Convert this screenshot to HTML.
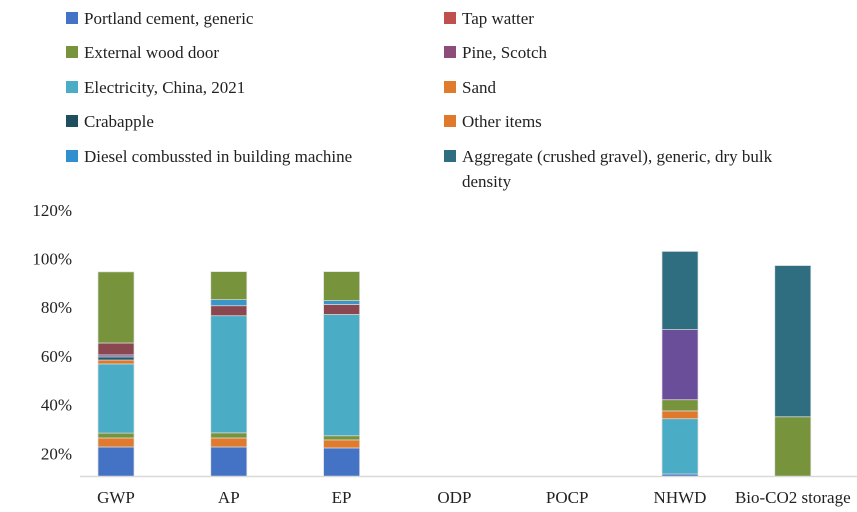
<!DOCTYPE html>
<html><head><meta charset="utf-8"><style>
body{margin:0;background:#fff;}
svg{display:block;font-family:"Liberation Serif",serif;}
</style></head><body>
<svg id="c" width="857" height="512"></svg>
<script>
const categories=["GWP","AP","EP","ODP","POCP","NHWD","Bio-CO2 storage"];
const seriesColors=["#4472c4","#e07b2e","#77933c","#4bacc6","#e0792c","#77933c","#1f5c6e","#6b4e9a","#8b4750","#3b95c9","#77933c","#2e6e80"];
const portland=[22.6,22.6,22.2,0,0,11.5,0];
const sand=[3.7,3.7,3.3,0,0,0,0];
const woodMinor=[2.0,2.1,1.7,0,0,0,0];
const electricity=[28.4,48.1,49.8,0,0,22.7,0];
const otherItems=[1.6,0,0,0,0,3.2,0];
const woodMid=[0,0,0,0,0,4.6,0];
const crabapple=[1.3,0,0,0,0,0,0];
const pine=[0.8,0,0,0,0,28.8,0];
const tap=[4.9,4.1,4.1,0,0,0,0];
const diesel=[0,2.5,1.6,0,0,0,0];
const woodDoor=[29.2,11.5,11.9,0,0,0,35];
const aggregate=[0,0,0,0,0,32.1,62.1];
const series=[portland,sand,woodMinor,electricity,otherItems,woodMid,crabapple,pine,tap,diesel,woodDoor,aggregate];
const yTicks=[20,40,60,80,100,120];
const tickLabels=["20%","40%","60%","80%","100%","120%"];

const NS="http://www.w3.org/2000/svg";
const svg=document.getElementById('c');
function el(t,a,p){const e=document.createElementNS(NS,t);for(const k in a)e.setAttribute(k,a[k]);(p||svg).appendChild(e);return e;}
const y=v=>502-v*2.435;
const x=i=>116+i*112.8;
const baseY=476;

const legend=[
 ["Portland cement, generic","#4472c4",66,18],["Tap watter","#c0504d",444,18],
 ["External wood door","#77933c",66,52],["Pine, Scotch","#8c4d7a",444,52],
 ["Electricity, China, 2021","#4bacc6",66,87],["Sand","#e07b2e",444,87],
 ["Crabapple","#1f4e5f",66,121],["Other items","#e0792c",444,121],
 ["Diesel combussted in building machine","#2f8fcf",66,156],["Aggregate (crushed gravel), generic, dry bulk","#2e6e80",444,156]];
legend.forEach(l=>{
 const g=el('g',{});
 
 
 el('rect',{x:l[2],y:l[3]-6,width:12,height:12,fill:l[1]},g);
 const t=el('text',{x:l[2]+18,y:l[3]+6,'font-size':17,fill:'#222'},g);t.textContent=l[0];
});
const t2=el('text',{x:462,y:187,'font-size':17,fill:'#222'});t2.textContent="density";



yTicks.forEach((v,i)=>{
 const t=el('text',{x:72,y:y(v)+6,'font-size':17,'text-anchor':'end',fill:'#222'});
 t.textContent=tickLabels[i];
 
 
});

const clip=el('clipPath',{id:'cp'});el('rect',{x:0,y:0,width:857,height:baseY},clip);
const bars=el('g',{'clip-path':'url(#cp)'});


categories.forEach((c,i)=>{
 let cum=0;
 series.forEach((s,k)=>{
  const v=s[i];if(!v)return;
  const r=el('rect',{x:x(i)-18,y:y(cum+v),width:36,height:y(cum)-y(cum+v),fill:seriesColors[k],stroke:'#ddd','stroke-width':0.7},bars);
  
  
  cum+=v;
 });
 const t=el('text',{x:x(i),y:503,'font-size':17,'text-anchor':'middle',fill:'#222'});
 t.textContent=c;
 
 
});
const ax=el('line',{x1:80,x2:857,y1:baseY+0.5,y2:baseY+0.5,stroke:'#d9d9d9','stroke-width':1.5});


</script>
</body></html>
